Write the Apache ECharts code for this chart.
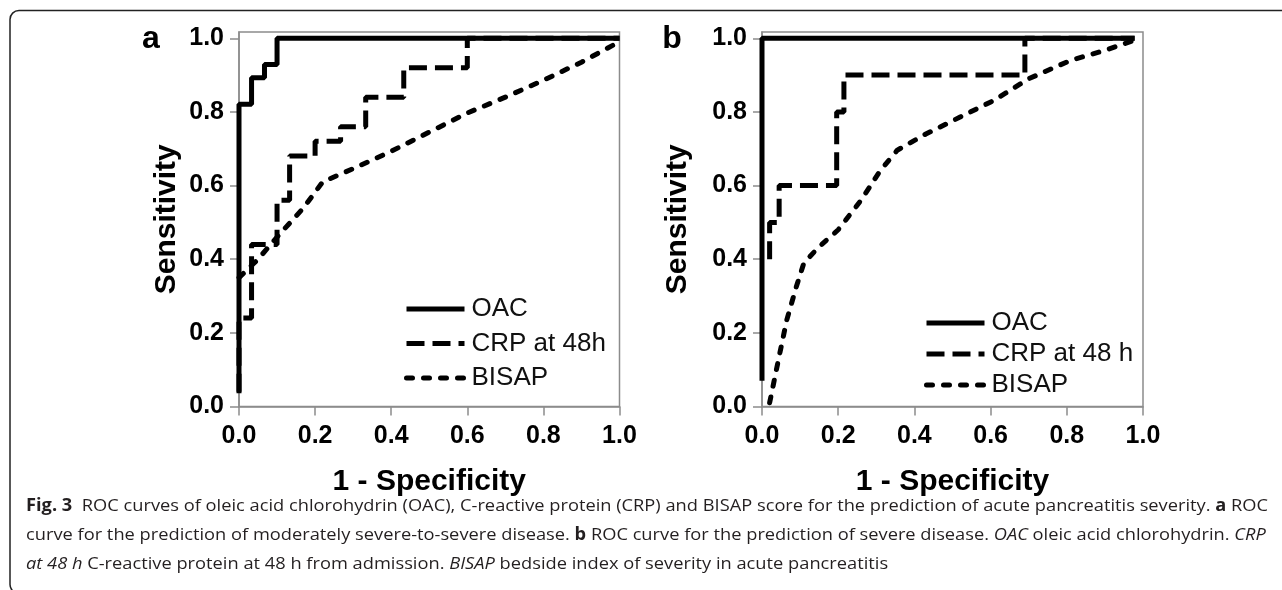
<!DOCTYPE html>
<html><head><meta charset="utf-8">
<script src="https://cdn.jsdelivr.net/npm/echarts@6/dist/echarts.min.js"></script>
<style>html,body{margin:0;padding:0;background:#fff}#c{width:1282px;height:590px}</style>
</head><body><div id="c"></div>
<script>
// ---------- data ----------
const xTicks = [0, 0.2, 0.4, 0.6, 0.8, 1.0];
const yTicks = [0, 0.2, 0.4, 0.6, 0.8, 1.0];
const namesA = ['OAC', 'CRP at 48h', 'BISAP'];
const namesB = ['OAC', 'CRP at 48 h', 'BISAP'];
const panelLetters = ['a', 'b'];
const xTitle = '1 - Specificity';
const yTitle = 'Sensitivity';

// panel a
const oacA = [[0,0.036],[0,0.821],[0.033,0.821],[0.033,0.893],[0.067,0.893],[0.067,0.929],[0.1,0.929],[0.1,1],[1,1]];
const crpA = [[0,0.04],[0,0.24],[0.033,0.24],[0.033,0.44],[0.1,0.44],[0.1,0.56],[0.133,0.56],[0.133,0.68],[0.2,0.68],[0.2,0.72],[0.267,0.72],[0.267,0.76],[0.333,0.76],[0.333,0.84],[0.433,0.84],[0.433,0.92],[0.6,0.92],[0.6,1],[1,1]];
const bisapA = [[0,0.35],[0.05,0.40],[0.1,0.46],[0.17,0.54],[0.22,0.61],[0.3,0.646],[0.4,0.693],[0.5,0.745],[0.6,0.797],[0.7,0.84],[0.8,0.886],[0.9,0.935],[0.99,0.985]];

// panel b
const oacB = [[0,0.07],[0,1],[0.978,1]];
const crpB = [[0.02,0.4],[0.02,0.5],[0.045,0.5],[0.045,0.6],[0.196,0.6],[0.196,0.8],[0.215,0.8],[0.215,0.9],[0.69,0.9],[0.69,1],[0.978,1]];
const bisapB = [[0.02,0.01],[0.043,0.126],[0.065,0.235],[0.09,0.325],[0.11,0.39],[0.15,0.434],[0.2,0.48],[0.26,0.56],[0.31,0.64],[0.355,0.696],[0.43,0.74],[0.52,0.786],[0.61,0.832],[0.70,0.89],[0.81,0.94],[0.9,0.967],[0.978,0.995]];

// caption
const captionLines = [
  [['b','Fig. 3'],['n','  ROC curves of oleic acid chlorohydrin (OAC), C-reactive protein (CRP) and BISAP score for the prediction of acute pancreatitis severity. '],['b','a'],['n',' ROC']],
  [['n','curve for the prediction of moderately severe-to-severe disease. '],['b','b'],['n',' ROC curve for the prediction of severe disease. '],['i','OAC'],['n',' oleic acid chlorohydrin. '],['i','CRP']],
  [['i','at 48 h'],['n',' C-reactive protein at 48 h from admission. '],['i','BISAP'],['n',' bedside index of severity in acute pancreatitis']]
];

// ---------- layout / style ----------
const AX = '#8c8c8c';
const SANS = '"Liberation Sans", Arial, sans-serif';
const CAPF = '"Open Sans", "Noto Sans", sans-serif';
const CAP_SIZE = 17;
const gridsPx = [{left:239, top:32, width:380.5, height:374.5},{left:762, top:32, width:381, height:374.5}];

function xAxisCfg(gi){
  return {type:'value', gridIndex:gi, min:0, max:1, interval:0.2,
    name:xTitle, nameLocation:'middle', nameGap:60,
    nameTextStyle:{fontFamily:SANS, fontWeight:'bold', fontSize:30, color:'#000'},
    axisLine:{show:true, lineStyle:{color:AX, width:1.5}},
    axisTick:{show:true, length:9, lineStyle:{color:AX, width:1.5}, customValues:xTicks},
    axisLabel:{margin:17, fontFamily:SANS, fontWeight:'bold', fontSize:25, color:'#000', customValues:xTicks, formatter:v=>Number(v).toFixed(1)},
    splitLine:{show:false}};
}
function yAxisCfg(gi, gap){
  return {type:'value', gridIndex:gi, min:0, max:1.017,
    name:yTitle, nameLocation:'middle', nameGap:gap, nameRotate:90,
    nameTextStyle:{fontFamily:SANS, fontWeight:'bold', fontSize:30, color:'#000'},
    axisLine:{show:true, lineStyle:{color:AX, width:1.5}},
    axisTick:{show:true, length:9, lineStyle:{color:AX, width:1.5}, customValues:yTicks},
    axisLabel:{margin:15, fontFamily:SANS, fontWeight:'bold', fontSize:25, color:'#000', customValues:yTicks, formatter:v=>Number(v).toFixed(1)},
    splitLine:{show:false}};
}
const solid = {color:'#000', width:5, type:'solid'};
const dashed = {color:'#000', width:5, type:[18,8], cap:'butt'};
const dotted = {color:'#000', width:5, type:[6,11], cap:'round'};
function line(name, data, gi, ls){
  return {type:'line', name, data, xAxisIndex:gi, yAxisIndex:gi, showSymbol:false, symbol:'none',
    color:'#000', itemStyle:{color:'#000'},
    lineStyle:ls, clip:false, animation:false, z: ls===solid?3:2};
}
function legendCfg(data, left, top, gap){
  return {data, orient:'vertical', left, top, padding:0, itemWidth:58, itemHeight:14, itemGap:gap,
    selectedMode:false, lineStyle:{width:5}, itemStyle:{opacity:0},
    textStyle:{fontFamily:SANS, fontSize:26, color:'#111', lineHeight:26, padding:[0,0,0,2]}};
}

// caption measuring for horizontal fit
const cv = document.createElement('canvas').getContext('2d');
function fontFor(kind){
  return (kind==='i'?'italic ':'') + (kind==='b'?'bold ':'') + CAP_SIZE + 'px ' + CAPF;
}
function measure(segs){
  let w = 0;
  segs.forEach(([k,t])=>{cv.font = fontFor(k); w += cv.measureText(t).width;});
  return w;
}
const capScale = 1242 / measure(captionLines[0]);
const capY = [506, 535, 564];
const rich = {
  b:{fontFamily:CAPF, fontSize:CAP_SIZE, fontWeight:'bold', fill:'#231f20'},
  i:{fontFamily:CAPF, fontSize:CAP_SIZE, fontStyle:'italic', fill:'#231f20'},
  n:{fontFamily:CAPF, fontSize:CAP_SIZE, fill:'#231f20'}
};
const captionGraphics = captionLines.map((segs, i)=>({
  type:'text', x:26, y:capY[i], scaleX:capScale, silent:true,
  style:{text: segs.map(([k,t])=>'{'+k+'|'+t+'}').join(''), rich, fontFamily:CAPF, fontSize:CAP_SIZE, fill:'#231f20', verticalAlign:'middle', align:'left'}
}));

const chart = echarts.init(document.getElementById('c'), null, {renderer:'canvas'});
chart.setOption({
  backgroundColor:'#fff',
  animation:false,
  grid: gridsPx.map(g=>Object.assign({show:true, borderColor:AX, borderWidth:1.5, backgroundColor:'transparent', containLabel:false}, g)),
  xAxis:[xAxisCfg(0), xAxisCfg(1)],
  yAxis:[yAxisCfg(0, 57), yAxisCfg(1, 69)],
  legend:[legendCfg(namesA, 404, 296, 8.5), legendCfg(namesB, 924, 310, 5)],
  series:[
    line(namesA[1], crpA, 0, dashed), line(namesA[2], bisapA, 0, dotted), line(namesA[0], oacA, 0, solid),
    line(namesB[1], crpB, 1, dashed), line(namesB[2], bisapB, 1, dotted), line(namesB[0], oacB, 1, solid)
  ],
  graphic:[
    {type:'rect', silent:true, shape:{x:10, y:10.5, width:1320, height:583, r:9}, style:{fill:'none', stroke:'#222', lineWidth:1.5}},
    {type:'text', x:151, y:39, silent:true, style:{text:panelLetters[0], fontFamily:SANS, fontWeight:'bold', fontSize:32, fill:'#000', align:'center', verticalAlign:'middle'}},
    {type:'text', x:672, y:39, silent:true, style:{text:panelLetters[1], fontFamily:SANS, fontWeight:'bold', fontSize:32, fill:'#000', align:'center', verticalAlign:'middle'}}
  ].concat(captionGraphics)
});
</script></body></html>
